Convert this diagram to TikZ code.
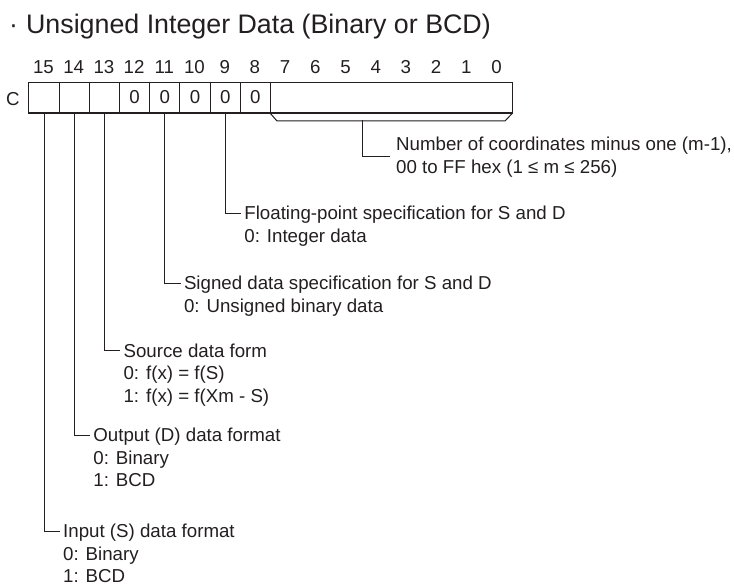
\documentclass[tikz,border=0pt]{standalone}
\usepackage{fontspec}
\setmainfont{Liberation Sans}
\definecolor{inkc}{RGB}{35,31,32}
\begin{document}
\begin{tikzpicture}[x=1pt,y=-1pt,
  txt/.style={text=inkc, font=\fontsize{18.7}{22.5}\selectfont},
  cell/.style={txt, draw=inkc, line width=1pt, minimum width=30.2pt, minimum height=30pt,
    inner sep=0pt, anchor=north west, text height=13pt, text depth=0pt},
  bitno/.style={txt, inner sep=0pt, text height=13pt, text depth=0pt, anchor=center},
  lbl/.style={txt, anchor=west, inner xsep=3pt, inner ysep=0pt, text height=13pt, text depth=0pt},
  conn/.style={draw=inkc, line width=1pt}
]
\useasboundingbox (0,0) rectangle (734,585);

% title
\node[anchor=base west, inner sep=0pt, text=inkc, font=\fontsize{26.8}{30}\selectfont] (title)
  at (9,34) {·\hspace{8pt}Unsigned Integer Data (Binary or BCD)};

% bit numbers
\foreach \k in {15,...,0}
  \node[bitno] (b\k) at ({28.4+(15.5-\k)*30.2},67.5) {\k};

% register cells
\node[bitno] (clab) at (13,99) {C};
\node[cell] (c15) at (28.4,82) {};
\node[cell] (c14) at (58.6,82) {};
\node[cell] (c13) at (88.8,82) {};
\node[cell] (c12) at (119.0,82) {0};
\node[cell] (c11) at (149.2,82) {0};
\node[cell] (c10) at (179.4,82) {0};
\node[cell] (c9)  at (209.6,82) {0};
\node[cell] (c8)  at (239.8,82) {0};
\node[cell, minimum width=241.6pt] (low) at (270.0,82) {};
\draw[draw=inkc, line width=2pt] (c15.south west) -- (low.south east);

% bracket under bits 7-0
\draw[conn] (low.south west) -- ++(7,8) coordinate (bl) -- ++(228,0) coordinate (br) -- (low.south east);
\coordinate (brc) at (362,120);

% labels
\node[txt, anchor=west, align=left, inner xsep=6pt, inner ysep=0pt] (num) at (390,157)
  {Number of coordinates minus one (m-1),\\00 to FF hex (1 ≤ m ≤ 256)};

\node[lbl] (fp)  at (241.2,213.3) {Floating-point specification for S and D};
\node[lbl] (fp1) at (241.2,236)   {0: Integer data};

\node[lbl] (sg)  at (180.8,283.3) {Signed data specification for S and D};
\node[lbl] (sg1) at (180.8,306)   {0: Unsigned binary data};

\node[lbl] (sd)  at (120.4,350.7) {Source data form};
\node[lbl] (sd1) at (120.4,373.2) {0: f(x) = f(S)};
\node[lbl] (sd2) at (120.4,395.7) {1: f(x) = f(Xm - S)};

\node[lbl] (od)  at (90.2,435)   {Output (D) data format};
\node[lbl] (od1) at (90.2,457.5) {0: Binary};
\node[lbl] (od2) at (90.2,480)   {1: BCD};

\node[lbl] (id)  at (60,531)   {Input (S) data format};
\node[lbl] (id1) at (60,553.5) {0: Binary};
\node[lbl] (id2) at (60,575.5) {1: BCD};

% connectors
\draw[conn] (brc) |- (num.west);
\draw[conn] (c9.south)  |- (fp.west);
\draw[conn] (c11.south) |- (sg.west);
\draw[conn] (c13.south) |- (sd.west);
\draw[conn] (c14.south) |- (od.west);
\draw[conn] (c15.south) |- (id.west);
\end{tikzpicture}
\end{document}
